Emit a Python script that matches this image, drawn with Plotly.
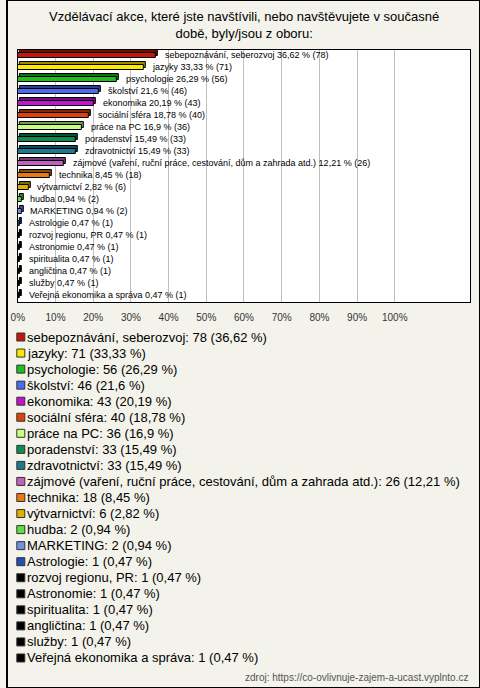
import plotly.graph_objects as go

categories = [
    "sebepoznávání, seberozvoj", "jazyky", "psychologie", "školství", "ekonomika",
    "sociální sféra", "práce na PC", "poradenství", "zdravotnictví",
    "zájmové (vaření, ruční práce, cestování, dům a zahrada atd.)", "technika",
    "výtvarnictví", "hudba", "MARKETING", "Astrologie", "rozvoj regionu, PR",
    "Astronomie", "spiritualita", "angličtina", "služby", "Veřejná ekonomika a správa",
]
counts = [78, 71, 56, 46, 43, 40, 36, 33, 33, 26, 18, 6, 2, 2, 1, 1, 1, 1, 1, 1, 1]
percents = [36.62, 33.33, 26.29, 21.6, 20.19, 18.78, 16.9, 15.49, 15.49, 12.21, 8.45,
            2.82, 0.94, 0.94, 0.47, 0.47, 0.47, 0.47, 0.47, 0.47, 0.47]
percent_labels = ["36,62", "33,33", "26,29", "21,6", "20,19", "18,78", "16,9", "15,49",
                  "15,49", "12,21", "8,45", "2,82", "0,94", "0,94", "0,47", "0,47",
                  "0,47", "0,47", "0,47", "0,47", "0,47"]
colors = ["#c0180c", "#ffe800", "#1ebe1e", "#4a6cf0", "#c014d2", "#e0400e", "#c8ff82",
          "#108c50", "#1e7890", "#c060c0", "#e87814", "#e0b000", "#60e040", "#7090e0",
          "#2050b0", "#000000", "#000000", "#000000", "#000000", "#000000", "#000000"]
tick_values = [0, 10, 20, 30, 40, 50, 60, 70, 80, 90, 100]
tick_labels = [f"{v}%" for v in tick_values]

title_text = ("Vzdělávací akce, které jste navštívili, nebo navštěvujete v současné<br>"
              "době, byly/jsou z oboru:")
source_text = "zdroj: https://co-ovlivnuje-zajem-a-ucast.vyplnto.cz"

W, H = 480, 688
FONT = "Liberation Sans, Arial, sans-serif"
BG = "#f3f3eb"


def darker(hexc, f=0.6):
    hexc = hexc.lstrip("#")
    r, g, b = (int(hexc[i:i + 2], 16) for i in (0, 2, 4))
    return "#%02x%02x%02x" % (int(r * f), int(g * f), int(b * f))


n = len(categories)
idx = list(range(n))

fig = go.Figure()

# back (3D) face
fig.add_trace(go.Bar(
    x=percents, y=[i - 0.17 for i in idx], base=[0.55] * n, orientation="h",
    width=0.42, marker=dict(color=[darker(c) for c in colors],
                            line=dict(color="#000000", width=1)),
    hoverinfo="skip", showlegend=False, xaxis="x", yaxis="y",
))
# front face
fig.add_trace(go.Bar(
    x=percents, y=idx, orientation="h", width=0.42,
    marker=dict(color=colors, line=dict(color="#000000", width=1)),
    customdata=counts, hovertemplate="%{x}%<extra></extra>",
    showlegend=False, xaxis="x", yaxis="y",
))

# legend drawn as a second subplot
legend_text = [f"{c}: {k} ({p} %)" for c, k, p in zip(categories, counts, percent_labels)]
fig.add_trace(go.Scatter(
    x=[14] * n, y=idx, mode="markers",
    marker=dict(symbol="square", size=8, color=colors, line=dict(color="#333333", width=1)),
    cliponaxis=False, hoverinfo="skip", showlegend=False, xaxis="x2", yaxis="y2",
))

annotations = []
for i, (c, k, p) in enumerate(zip(categories, counts, percent_labels)):
    annotations.append(dict(
        x=percents[i], y=i, xref="x", yref="y", xanchor="left", yanchor="middle",
        xshift=7, text=f"{c} {p} % ({k})", showarrow=False,
        font=dict(family=FONT, size=9, color="#000000"),
    ))
for i, t in enumerate(legend_text):
    annotations.append(dict(
        x=18, y=i, xref="x2", yref="y2", xanchor="left", yanchor="middle",
        text=t, showarrow=False, font=dict(family=FONT, size=13, color="#000000"),
    ))
annotations.append(dict(
    x=0.5, y=1 - 25 / H, xref="paper", yref="paper", xanchor="center", yanchor="middle",
    text=title_text, showarrow=False, font=dict(family=FONT, size=13, color="#000000"),
))
annotations.append(dict(
    x=470 / W, y=1 - 677 / H, xref="paper", yref="paper", xanchor="right", yanchor="middle",
    text=source_text, showarrow=False, font=dict(family=FONT, size=10, color="#555555"),
))

shapes = [
    dict(type="rect", xref="x domain", yref="y domain", x0=0, x1=1, y0=0, y1=1,
         fillcolor="#ffffff", line=dict(width=0), layer="below"),
    dict(type="rect", xref="paper", yref="paper", x0=0, x1=1, y0=0, y1=1,
         line=dict(color="#000000", width=2), fillcolor="rgba(0,0,0,0)"),
]

fig.update_layout(
    width=W, height=H, autosize=False,
    margin=dict(l=0, r=0, t=0, b=0),
    paper_bgcolor=BG, plot_bgcolor=BG,
    barmode="overlay", bargap=0,
    font=dict(family=FONT, color="#000000"),
    xaxis=dict(domain=[11 / W, 470 / W], range=[0, 120], tickvals=tick_values,
               ticktext=tick_labels, showgrid=True, gridcolor="#c0c0c0", gridwidth=1,
               zeroline=False, showline=True, mirror=True, linecolor="#000000",
               linewidth=1, ticks="", ticklabelstandoff=6,
               tickfont=dict(family=FONT, size=10, color="#333333"),
               anchor="y", fixedrange=True),
    yaxis=dict(domain=[1 - 302 / H, 1 - 50 / H], range=[n - 0.42, -0.42],
               showticklabels=False, showgrid=False, zeroline=False, showline=True,
               mirror=True, linecolor="#000000", linewidth=1, ticks="", anchor="x",
               fixedrange=True),
    xaxis2=dict(domain=[0, 1], range=[0, W], visible=False, anchor="y2", fixedrange=True),
    yaxis2=dict(domain=[1 - 666 / H, 1 - 329 / H], range=[n - 0.5, -0.5], visible=False,
                anchor="x2", fixedrange=True),
    annotations=annotations,
    shapes=shapes,
)

fig.write_html(
    "out.html",
    config={"displayModeBar": False},
    post_script="document.body.style.margin='0';document.body.style.overflow='hidden';",
)
